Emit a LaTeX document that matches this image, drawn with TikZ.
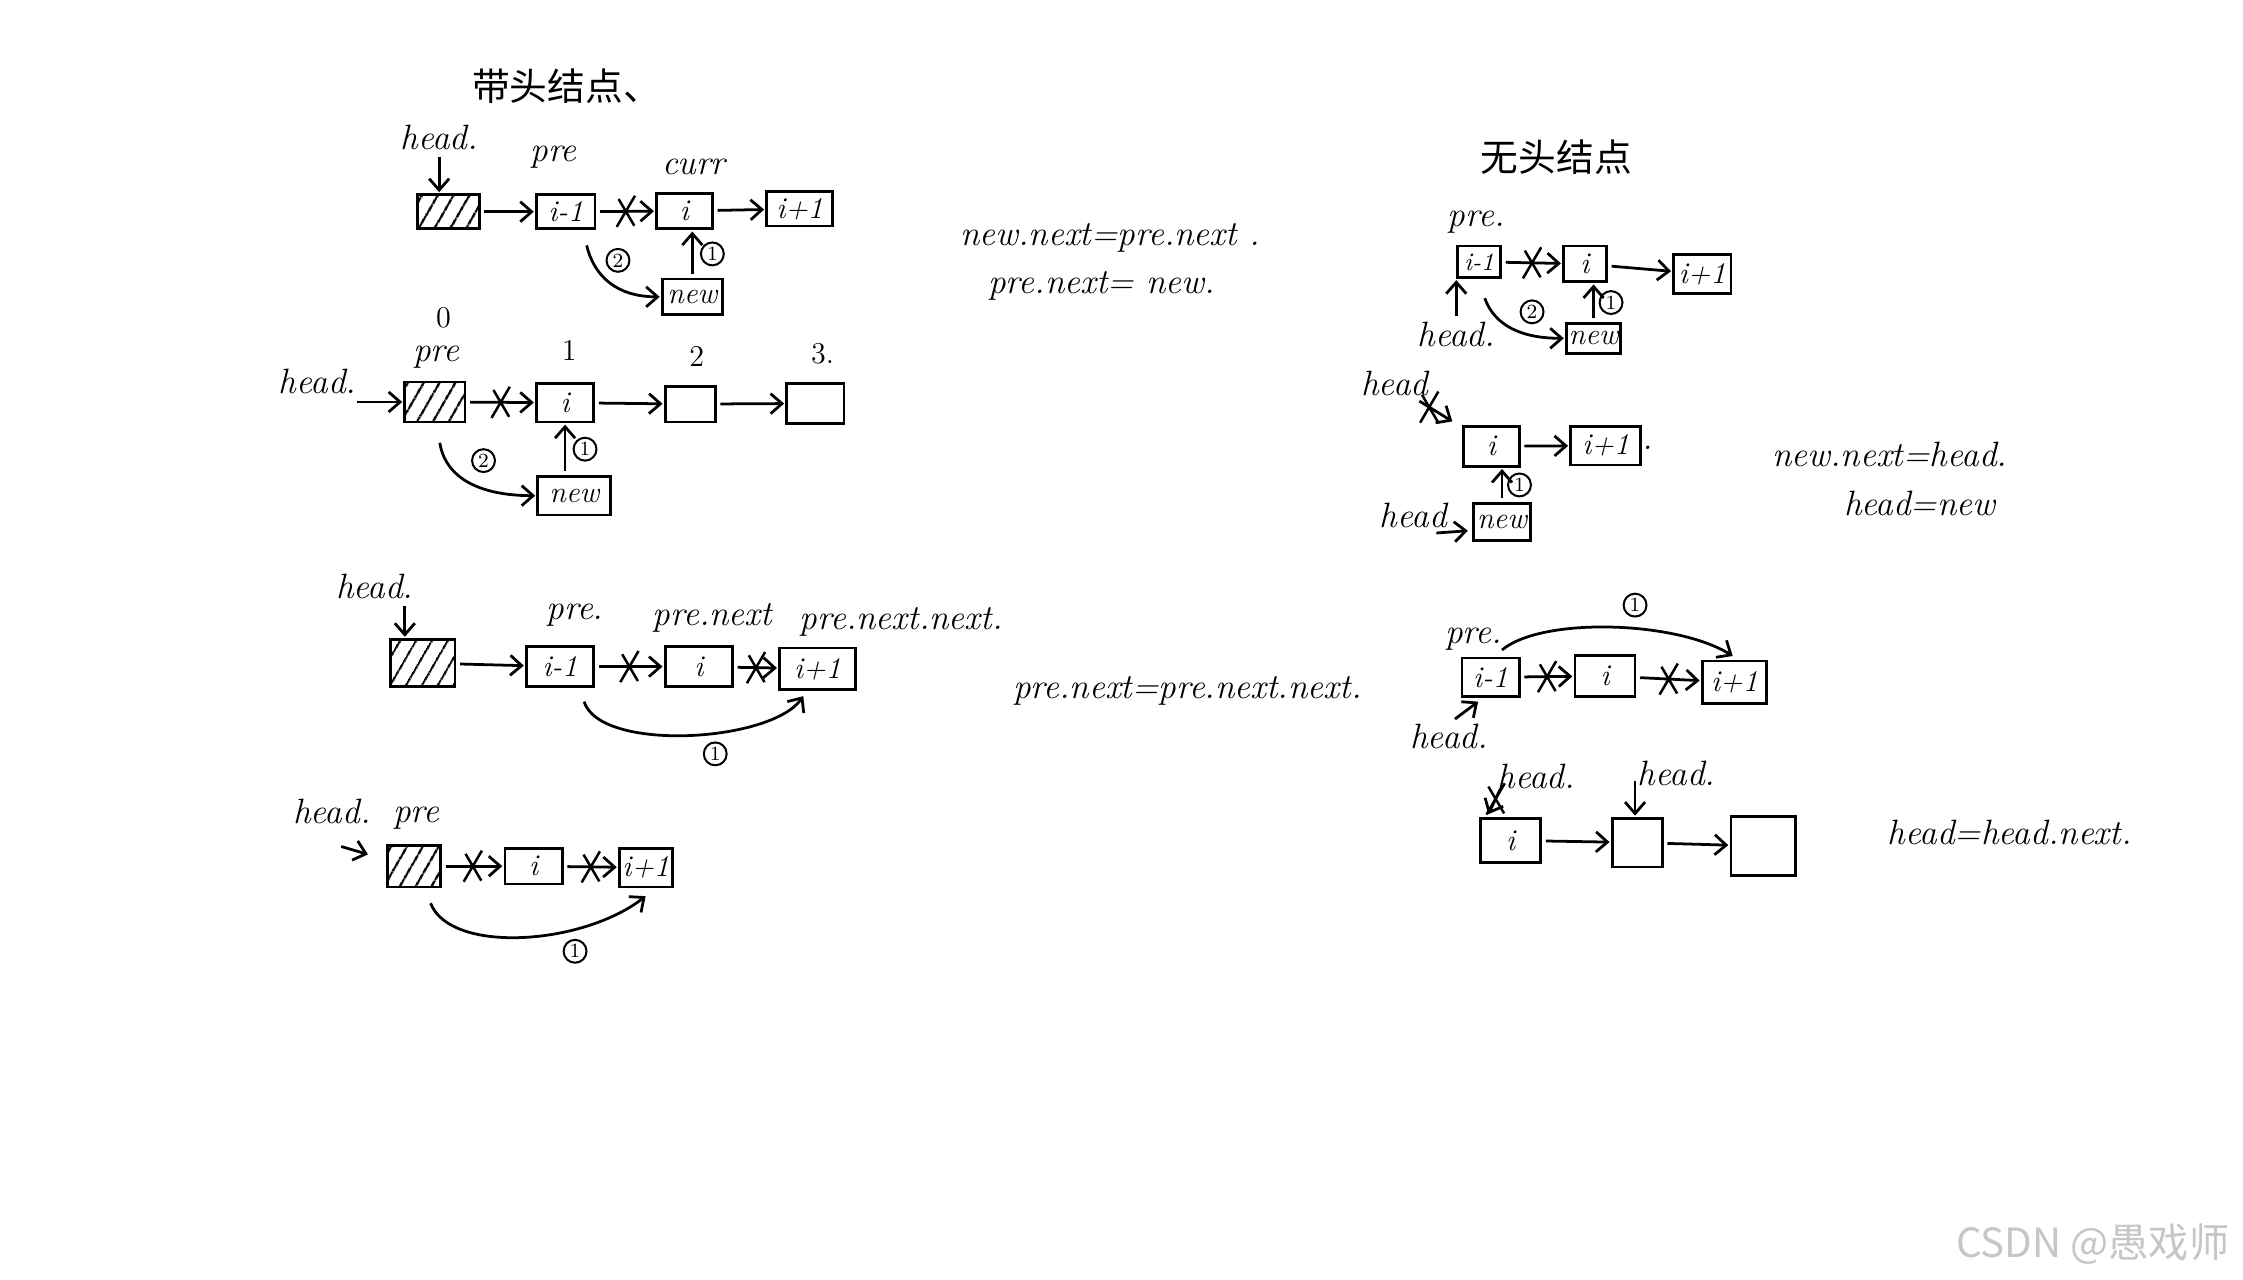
\documentclass[tikz,border=0pt]{standalone}
\usepackage{fontspec}
\newfontfamily\cjk{Noto Sans CJK SC}
\usetikzlibrary{arrows.meta,shapes.misc,patterns.meta,calc}
\tikzset{
  cell/.style={draw, line width=1.1pt, inner sep=0pt, font=\fontsize{12}{12}\selectfont\itshape},
  sz/.style 2 args={minimum width=#1*0.2mm, minimum height=#2*0.2mm},
  hatch/.style={pattern={Lines[angle=60,distance=1.9mm,line width=0.9pt]}},
  arr/.style={line width=1.1pt, -{Straight Barb[length=1.6mm,width=2.8mm]}, shorten <=1.5pt, shorten >=0.5pt},
  xc/.style={cross out, draw, line width=1pt, minimum width=2.2mm, minimum height=4mm, inner sep=0pt},
  lab/.style={font=\fontsize{14}{16}\selectfont\itshape, inner sep=1pt},
  labu/.style={font=\fontsize{12}{14}\selectfont, inner sep=1pt},
  cn/.style={circle, draw, line width=0.8pt, inner sep=0pt, minimum size=3.2mm, font=\fontsize{8}{8}\selectfont},
  ttl/.style={font=\cjk\fontsize{15}{17}\selectfont},
}
\begin{document}
\begin{tikzpicture}[x=0.2mm,y=-0.2mm]
\useasboundingbox (0,0) rectangle (1568,894.8);
\fill[white] (0,0) rectangle (1568,894.8);

% ---------- Section A ----------
\node[ttl] (tA) at (396,60) {带头结点、};
\node[lab] (hA) at (307,96) {head.};
\node[cell,hatch,sz={43}{24}] (A0) at (313.5,148) {};
\node[cell,sz={41}{24}] (A1) at (395.5,148) {i-1};
\node[cell,sz={39}{25}] (A2) at (478.5,147.5) {i};
\node[cell,sz={46}{24}] (A3) at (559,146) {i+1};
\node[cell,sz={42}{25}] (An) at (484,207.5) {new};
\node[lab] (pA) at (387,110) {pre};
\node[lab] (cA) at (485,117) {curr};
\draw[arr] (hA.south) -- (hA.south |- A0.north);
\draw[arr] (A0) -- (A1);
\draw[arr] (A1) -- node[xc]{} (A2);
\draw[arr] (A2) -- (A3);
\draw[arr] (An.north) -- node[cn,right=3pt]{1} (An.north |- A2.south);
\draw[arr] ($(A1.south)+(14,8)$) .. controls +(6,25) and +(-30,0) .. (An.west);
\node[cn] (c2A) at (432,182) {2};

% ---------- Section B ----------
\node[labu] (iB0) at (310,222) {0};
\node[lab] (pB) at (305,250) {pre};
\node[labu] (iB1) at (398,245) {1};
\node[labu] (iB2) at (487,249) {2};
\node[labu] (iB3) at (575,247) {3.};
\node[lab] (hB) at (222,267) {head.};
\node[cell,hatch,sz={42}{28}] (B0) at (304,281) {};
\node[cell,sz={40}{27}] (B1) at (395,281.5) {i};
\node[cell,sz={35}{25}] (B2) at (482.5,282.5) {};
\node[cell,sz={40}{28}] (B3) at (570,282) {};
\node[cell,sz={51}{27}] (Bn) at (401.5,346.5) {new};
\coordinate (hBa) at (247,281);
\draw[arr] (hBa) -- (B0);
\draw[arr] (B0) -- node[xc]{} (B1);
\draw[arr] (B1) -- (B2);
\draw[arr] (B2) -- (B3);
\draw[arr] (B1 |- Bn.north) -- node[cn,right=3pt]{1} (B1.south);
\draw[arr] ($(B0.south)+(3,11)$) .. controls +(5,30) and +(-35,0) .. (Bn.west);
\node[cn] (c2B) at (338,322) {2};

% ---------- formulas top ----------
\node[lab] (f1) at (776,166) {new.next=pre.next .};
\node[lab] (f2) at (770,200) {pre.next= new.};

% ---------- Section C ----------
\node[lab] (hC) at (262,410) {head.};
\node[cell,hatch,sz={45}{33}] (C0) at (295.5,463.5) {};
\node[lab] (pC) at (402,430) {pre.};
\node[cell,sz={47}{28}] (C1) at (391.5,466) {i-1};
\node[lab] (pnC) at (498,432) {pre.next};
\node[cell,sz={47}{28}] (C2) at (488.5,466) {i};
\node[lab] (pnnC) at (630,435) {pre.next.next.};
\node[cell,sz={53}{29}] (C3) at (571.5,467.5) {i+1};
\draw[arr] ($(hC.south)+(21,0)$) -- ($(C0.north)+(-12.5,0)$);
\draw[arr] (C0) -- (C1);
\draw[arr] (C1) -- node[xc]{} (C2);
\draw[arr] (C2) -- node[xc]{} (C3);
\draw[arr] ($(C1.south)+(16,7)$) .. controls +(12,38) and +(-23,33) .. ($(C3.south west)+(18,3)$);
\node[cn] (c1C) at (500,527) {1};
\node[lab] (f3) at (830,483) {pre.next=pre.next.next.};

% ---------- Section D ----------
\node[lab] (hD) at (232,567) {head.};
\node[lab] (pD) at (291,572) {pre};
\node[cell,hatch,sz={37}{29}] (D0) at (289.5,605.5) {};
\node[cell,sz={40}{25}] (D1) at (373,605.5) {i};
\node[cell,sz={37}{27}] (D2) at (451.5,606.5) {i+1};
\coordinate (hDa) at (236,591);
\draw[arr] (hDa) -- ($(D0.west)+(-12,-8)$);
\draw[arr] (D0) -- node[xc]{} (D1);
\draw[arr] (D1) -- node[xc]{} (D2);
\draw[arr] ($(D0.south)+(10.5,8)$) .. controls +(15,38) and +(-45,35) .. ($(D2.south)+(0.5,5)$);
\node[cn] (c1D) at (402,665) {1};

% ---------- Section E ----------
\node[ttl] (tE) at (1088,110) {无头结点};
\node[lab] (pE) at (1032,155) {pre.};
\node[cell,sz={30}{22},font=\fontsize{10}{10}\selectfont\itshape] (E1) at (1034,183) {i-1};
\node[cell,sz={30}{25}] (E2) at (1108,184.5) {i};
\node[cell,sz={40}{27}] (E3) at (1190,191.5) {i+1};
\draw[arr] (E1) -- node[xc]{} (E2);
\draw[arr] (E2) -- (E3);
\node[lab] (hE) at (1018,234) {head.};
\draw[arr] (hE.north) -- (hE.north |- E1.south);
\node[cell,sz={38}{21}] (En) at (1114,236.5) {new};
\draw[arr] (En.north) -- node[cn,right=2pt]{1} (En.north |- E2.south);
\draw[arr] ($(E1.south)+(3,11)$) .. controls +(8,22) and +(-30,0) .. (En.west);
\node[cn] (c2E) at (1071,218) {2};

% ---------- Section F ----------
\node[lab] (hF1) at (975,268) {head};
\node[cell,sz={39}{28}] (F1) at (1042.5,312) {i};
\node[cell,sz={49}{27}] (F2) at (1122.5,311.5) {i+1};
\node[lab] (dotF) at (1152,313) {.};
\coordinate (hFa) at (990,279);
\draw[arr] (hFa) -- node[xc,pos=0.35]{} ($(F1.north west)+(-6,-2)$);
\draw[arr] (F1) -- (F2);
\node[cell,sz={40}{26}] (Fn) at (1050,365) {new};
\draw[arr] (Fn.north) -- node[cn,right=2pt]{1} (Fn.north |- F1.south);
\node[lab] (hF2) at (988,360) {head};
\draw[arr] ($(hF2.south east)+(-12,2)$) -- ($(Fn.west)+(-2,6)$);
\node[lab] (f4) at (1321,318) {new.next=head.};
\node[lab] (f5) at (1342,352) {head=new};

% ---------- Section G ----------
\node[cn] (c1G) at (1143,423) {1};
\node[lab] (pG) at (1030,447) {pre.};
\node[cell,sz={40}{27}] (G1) at (1042,473.5) {i-1};
\node[cell,sz={42}{29}] (G2) at (1122,472.5) {i};
\node[cell,sz={45}{30}] (G3) at (1212.5,477) {i+1};
\draw[arr] (G1) -- node[xc]{} (G2);
\draw[arr] (G2) -- node[xc]{} (G3);
\draw[arr] ($(G1.north)+(6,-3)$) .. controls +(30,-25) and +(-40,-25) .. ($(G3.north)+(-0.5,-2)$);
\node[lab] (hG) at (1013,515) {head.};
\draw[arr] ($(hG.north)+(2,0)$) -- ($(G1.south west)+(13,2)$);

% ---------- Section H ----------
\node[cell,sz={42}{31}] (H1) at (1056,587.5) {i};
\node[cell,sz={35}{34}] (H2) at (1144.5,589) {};
\node[cell,sz={45}{41}] (H3) at (1232.5,591.5) {};
\draw[arr] (H1) -- (H2);
\draw[arr] (H2) -- (H3);
\node[lab] (hH1) at (1074,543) {head.};
\coordinate (hH1a) at (1050,549);
\draw[arr] (hH1a) -- node[xc,pos=0.45]{} ($(H1.north west)+(6,-1)$);
\node[lab] (hH2) at (1172,541) {head.};
\coordinate (hH2a) at (1143,543);
\draw[arr] (hH2a) -- (hH2a |- H2.north);
\node[lab] (f6) at (1405,582) {head=head.next.};

% ---------- watermark ----------
\node[font=\cjk\fontsize{16}{16}\selectfont, text=gray!45] (wm) at (1463,870) {CSDN @愚戏师};
\end{tikzpicture}
\end{document}
